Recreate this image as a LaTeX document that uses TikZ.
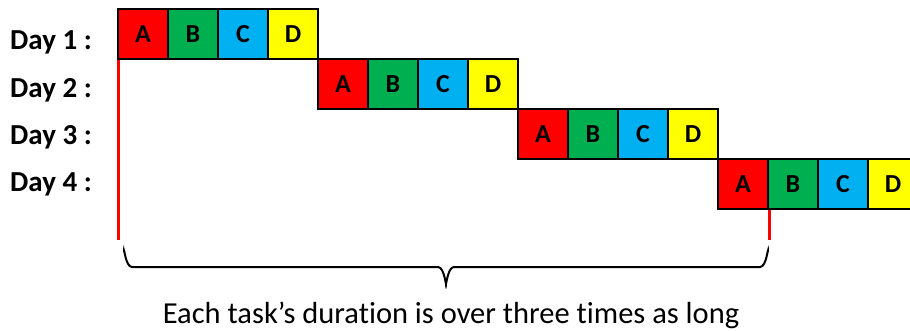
\documentclass[tikz,border=0pt]{standalone}
\usepackage{fontspec}
\setmainfont[Ligatures=NoCommon]{Carlito}
\definecolor{tA}{HTML}{FF0000}
\definecolor{tB}{HTML}{00B050}
\definecolor{tC}{HTML}{00B0F0}
\definecolor{tD}{HTML}{FFFF00}
\definecolor{mark}{HTML}{FF0000}
\begin{document}
\begin{tikzpicture}[x=1pt,y=-1pt,
  task/.style={draw=black,line width=2.6pt,minimum width=50pt,minimum height=50pt,inner sep=0pt,
    font=\fontsize{26}{28}\selectfont\bfseries,text=black},
  daylabel/.style={anchor=base west,inner sep=0pt,font=\fontsize{29}{32}\selectfont\bfseries},
  redline/.style={draw=mark,line width=3pt},
  brace/.style={draw=black,line width=2pt}]
\useasboundingbox (0,0) rectangle (910,331);
\begin{scope}
\clip (0,0) rectangle (910,331);
\foreach \d in {1,2,3,4}{
  \pgfmathsetmacro{\xo}{118+200*(\d-1)}
  \pgfmathsetmacro{\yo}{34+50*(\d-1)}
  \pgfmathsetmacro{\yb}{50+47.3*(\d-1)}
  \node[daylabel] (day\d) at (10,\yb) {Day \d\ :};
  \node[task,fill=tA] (a\d) at (\xo+25,\yo) {A};
  \node[task,fill=tB] (b\d) at (\xo+75,\yo) {B};
  \node[task,fill=tC] (c\d) at (\xo+125,\yo) {C};
  \node[task,fill=tD] (d\d) at (\xo+175,\yo) {D};
}
\end{scope}
\coordinate (ls) at (118,60);
\coordinate (le) at (118,240);
\coordinate (rs) at (769,210);
\coordinate (re) at (769,240);
\draw[redline] (ls) -- (le);
\draw[redline] (rs) -- (re);
\coordinate (bl) at (124,252);
\coordinate (br) at (768,252);
\coordinate (bt) at (446,282);
\draw[brace] (bl) to[out=90,in=180] ++(8,15) -- (438,267) to[out=0,in=-90] (bt)
  to[out=-90,in=180] (454,267) -- (760,267) to[out=0,in=90] (br);
\node[anchor=base,inner sep=0pt,font=\fontsize{30.5}{33}\selectfont] (cap) at (451,323)
  {Each task’s duration is over three times as long};
\end{tikzpicture}
\end{document}
